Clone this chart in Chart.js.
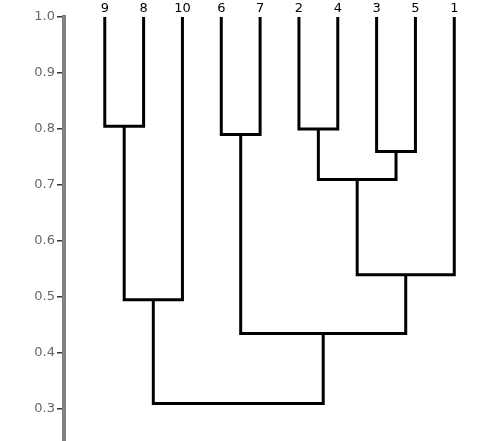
<!DOCTYPE html>
<html><head><meta charset="utf-8">
<script src="https://cdn.jsdelivr.net/npm/chart.js@4/dist/chart.umd.min.js"></script>
<style>html,body{margin:0;padding:0;background:#fff}#wrap{width:490px;height:441px}</style>
</head><body><div id="wrap"><canvas id="c" width="490" height="441"></canvas></div>
<script>
// Leaves in display order
const leafLabels = ['9','8','10','6','7','2','4','3','5','1'];
const leafHeight = 1.0;
// Merges: node ids 0..9 are leaves, merge k creates node 10+k
const mergeLeft   = [0, 3, 5, 7, 12, 14, 10, 11, 16];
const mergeRight  = [1, 4, 6, 8, 13, 9, 2, 15, 17];
const mergeHeight = [0.805, 0.79, 0.80, 0.76, 0.71, 0.54, 0.495, 0.435, 0.31];
const yTicks = [0.3, 0.4, 0.5, 0.6, 0.7, 0.8, 0.9, 1.0];

const nodeX = leafLabels.map((_, i) => i);
const nodeY = leafLabels.map(() => leafHeight);
const datasets = [];
mergeLeft.forEach((l, k) => {
  const r = mergeRight[k], h = mergeHeight[k];
  datasets.push({
    data: [{x: nodeX[l], y: nodeY[l]}, {x: nodeX[l], y: h}, {x: nodeX[r], y: h}, {x: nodeX[r], y: nodeY[r]}],
    showLine: true, borderColor: '#000', borderWidth: 3, pointRadius: 0, tension: 0,
    borderJoinStyle: 'miter', borderCapStyle: 'butt', clip: false
  });
  nodeX.push((nodeX[l] + nodeX[r]) / 2);
  nodeY.push(h);
});

const leafLabelPlugin = {
  id: 'leafLabels',
  afterDraw(chart) {
    const ctx = chart.ctx, xs = chart.scales.x, top = chart.chartArea.top;
    ctx.save();
    ctx.fillStyle = '#000';
    ctx.font = '13px "DejaVu Sans"';
    ctx.textAlign = 'center';
    ctx.textBaseline = 'middle';
    leafLabels.forEach((lab, i) => ctx.fillText(lab, xs.getPixelForValue(i), top - 8));
    ctx.restore();
  }
};

new Chart(document.getElementById('c'), {
  type: 'scatter',
  data: { datasets },
  plugins: [leafLabelPlugin],
  options: {
    responsive: false, animation: false,
    layout: { padding: { left: 0, right: 0, top: 17, bottom: 0 } },
    plugins: { legend: { display: false }, tooltip: { enabled: false } },
    scales: {
      x: { type: 'linear', display: false, min: -1.05, max: 9.92 },
      y: {
        type: 'linear', min: 0.243, max: 1.0,
        afterBuildTicks: (a) => { a.ticks = yTicks.map(v => ({ value: v })); },
        afterFit: (a) => { a.width = 64; a.paddingTop = 0; a.paddingBottom = 0; },
        border: { display: true, color: '#808080', width: 4 },
        grid: { drawOnChartArea: false, drawTicks: true, tickLength: 7, color: '#333', lineWidth: 1.5 },
        ticks: { callback: (v) => v.toFixed(1), color: '#666', padding: 2,
                 font: { family: 'DejaVu Sans', size: 13 } }
      }
    }
  }
});
</script></body></html>
